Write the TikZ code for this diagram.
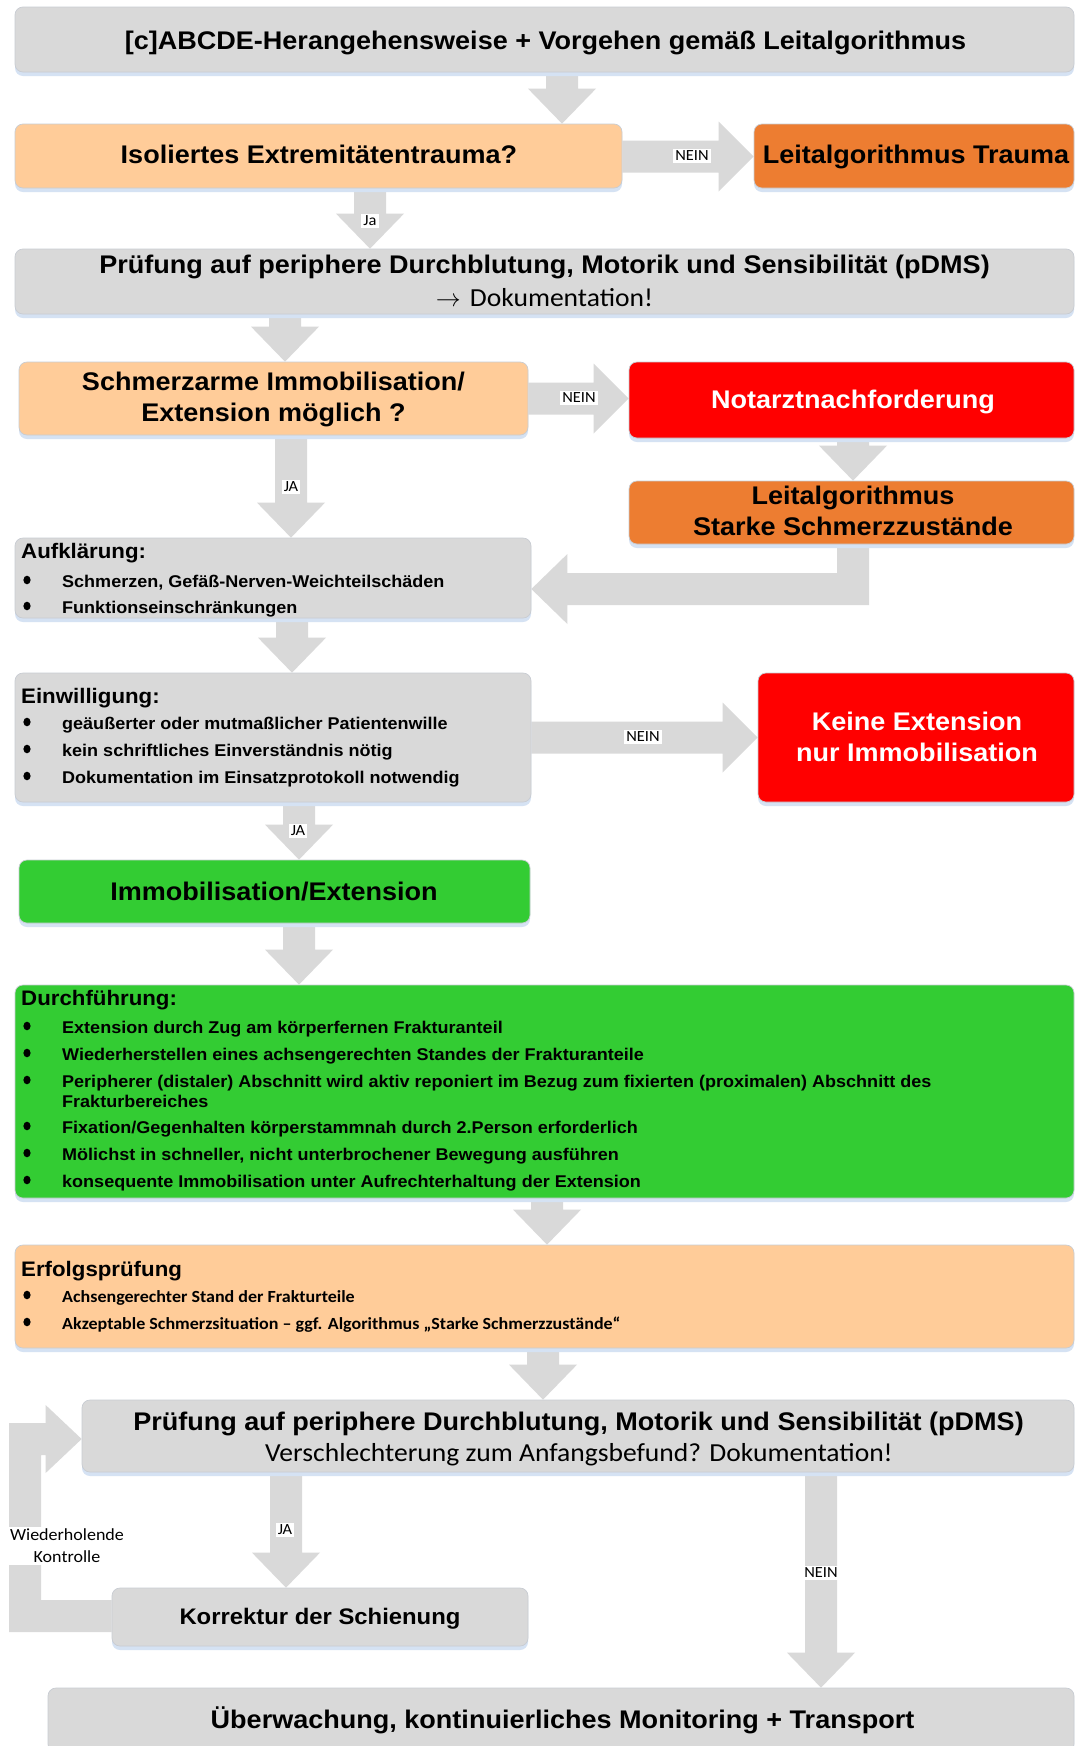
\documentclass[tikz,border=0pt]{standalone}
\usepackage{fontspec}
\setmainfont{Liberation Sans}[FakeStretch=1.06]
\newfontfamily\calibrifont{Carlito}[FakeStretch=1.06]
\usetikzlibrary{shadows,backgrounds,calc}

\definecolor{boxgray}{HTML}{D9D9D9}
\definecolor{arrowgray}{HTML}{D9D9D9}
\definecolor{peach}{HTML}{FFCC99}
\definecolor{orangebox}{HTML}{ED7D31}
\definecolor{redbox}{HTML}{FF0000}
\definecolor{greenbox}{HTML}{33CC33}
\definecolor{shadowblue}{HTML}{D5E2F3}
\definecolor{edgegray}{HTML}{C8CCD2}

\tikzset{
  box/.style={rounded corners=8pt, draw=edgegray, line width=0.7pt, inner sep=0pt,
    drop shadow={shadow xshift=0pt, shadow yshift=-4pt, fill=shadowblue, opacity=1}},
  blockarrow/.style={fill=arrowgray},
  ttl/.style={anchor=base, inner sep=0pt, font=\bfseries\fontsize{25.5}{30}\selectfont},
  sub/.style={anchor=base, inner sep=0pt, font=\calibrifont\fontsize{26}{30}\selectfont},
  hd/.style={anchor=base west, inner sep=0pt, font=\bfseries\fontsize{21}{25}\selectfont},
  itm/.style={anchor=base west, inner sep=0pt, font=\bfseries\fontsize{17}{20}\selectfont},
  calitm/.style={anchor=base west, inner sep=0pt, font=\calibrifont\bfseries\fontsize{17}{20}\selectfont},
  lbl/.style={fill=white, inner xsep=2pt, inner ysep=2pt, font=\calibrifont\fontsize{15.5}{18}\selectfont},
}

% bullet dot, centred at (x,-y)
\newcommand\dotbullet[2]{\fill (#1,-#2) ellipse [x radius=3.6pt, y radius=4.3pt];}

% downward block arrow from one node to the next, shaft axis at x
\newcommand\vblock[3]{%
  \fill[blockarrow] let \p1=(#1.south), \p2=(#2.north) in
    (#3-16,\y1) -- (#3-16,\y2+35) -- (#3-34,\y2+35) -- (#3,\y2) --
    (#3+34,\y2+35) -- (#3+16,\y2+35) -- (#3+16,\y1) -- cycle;}

% rightward block arrow from one node to the next, axis at y (measured downwards)
\newcommand\hblock[3]{%
  \fill[blockarrow] let \p1=(#1.east), \p2=(#2.west) in
    (\x1,-#3+16) -- (\x2-35,-#3+16) -- (\x2-35,-#3+35) -- (\x2,-#3) --
    (\x2-35,-#3-35) -- (\x2-35,-#3-16) -- (\x1,-#3-16) -- cycle;}

\begin{document}
\begin{tikzpicture}[x=1pt,y=1pt]
\useasboundingbox (0,0) rectangle (1075,-1746);
\begin{pgfonlayer}{background}
  \fill[white] (0,0) rectangle (1075,-1746);
\end{pgfonlayer}

% ---------- boxes ----------
\node[box, fill=boxgray,   minimum width=1059pt, minimum height=65pt]  (top)    at (544.5,-39.5)  {};
\node[box, fill=peach,     minimum width=607pt,  minimum height=64pt]  (iso)    at (318.5,-156)   {};
\node[box, fill=orangebox, minimum width=320pt,  minimum height=64pt]  (trauma) at (914,-156)     {};
\node[box, fill=boxgray,   minimum width=1059pt, minimum height=65pt]  (pdms)   at (544.5,-281.5) {};
\node[box, fill=peach,     minimum width=509pt,  minimum height=73pt]  (schmerz) at (273.5,-398.5) {};
\node[box, fill=redbox,    minimum width=445pt,  minimum height=76pt]  (notarzt) at (851.5,-400)  {};
\node[box, fill=orangebox, minimum width=445pt,  minimum height=63pt]  (starke) at (851.5,-512.5) {};
\node[box, fill=boxgray,   minimum width=516pt,  minimum height=80pt]  (aufkl)  at (273,-578)     {};
\node[box, fill=boxgray,   minimum width=516pt,  minimum height=129pt] (einw)   at (273,-737.5)   {};
\node[box, fill=redbox,    minimum width=316pt,  minimum height=129pt] (keine)  at (916,-737.5)   {};
\node[box, fill=greenbox,  minimum width=511pt,  minimum height=63pt]  (immob)  at (274.5,-891.5) {};
\node[box, fill=greenbox,  minimum width=1059pt, minimum height=213pt] (durch)  at (544.5,-1091.5) {};
\node[box, fill=peach,     minimum width=1059pt, minimum height=103pt] (erfolg) at (544.5,-1296.5) {};
\node[box, fill=boxgray,   minimum width=992pt,  minimum height=72pt]  (pdmsb)  at (578,-1436)    {};
\node[box, fill=boxgray,   minimum width=416pt,  minimum height=58pt]  (korr)   at (320,-1617)    {};
\node[box, fill=boxgray,   minimum width=1026pt, minimum height=64pt]  (ueber)  at (561,-1720)    {};

% ---------- block arrows ----------
\begin{pgfonlayer}{background}
  \vblock{top}{iso}{562}
  \hblock{iso}{trauma}{156.5}
  \vblock{iso}{pdms}{370}
  \vblock{pdms}{schmerz}{285}
  \hblock{schmerz}{notarzt}{398.5}
  \vblock{notarzt}{starke}{853}
  \vblock{schmerz}{aufkl}{291}
  % from the pain algorithm back to the information box
  \fill[blockarrow] let \p1=(starke.south), \p2=(aufkl.east) in
    (837,\y1) -- (869,\y1) -- (869,-605) -- (\x2+36,-605) -- (\x2+36,-624) --
    (\x2,-589) -- (\x2+36,-554) -- (\x2+36,-573) -- (837,-573) -- cycle;
  \vblock{aufkl}{einw}{292}
  \hblock{einw}{keine}{737.5}
  \vblock{einw}{immob}{299}
  \vblock{immob}{durch}{299}
  \vblock{durch}{erfolg}{547}
  \vblock{erfolg}{pdmsb}{543}
  \vblock{pdmsb}{korr}{286}
  \vblock{pdmsb}{ueber}{821}
  % repeated check: from the splint correction back up to the pDMS check
  \fill[blockarrow] let \p1=(korr.west), \p2=(pdmsb.west) in
    (\x1,-1600) -- (41,-1600) -- (41,-1455) -- (\x2-36,-1455) -- (\x2-36,-1473) --
    (\x2,-1439) -- (\x2-36,-1405) -- (\x2-36,-1423) -- (9,-1423) -- (9,-1632) --
    (\x1,-1632) -- cycle;
\end{pgfonlayer}

% ---------- box texts ----------
\node[ttl] (top-t) at (545.5,-49) {[c]ABCDE-Herangehensweise + Vorgehen gemäß Leitalgorithmus};
\node[ttl] (iso-t) at (319,-163) {Isoliertes Extremitätentrauma?};
\node[ttl] (trauma-t) at (916,-163) {Leitalgorithmus Trauma};
\node[ttl] (pdms-t1) at (544.5,-273) {Prüfung auf periphere Durchblutung, Motorik und Sensibilität (pDMS)};
\node[sub] (pdms-t2) at (544.5,-306) {$\rightarrow$\hspace{0.35em}Dokumentation!};
\node[ttl] (schmerz-t1) at (273.5,-390) {Schmerzarme Immobilisation/};
\node[ttl] (schmerz-t2) at (273.5,-421) {Extension möglich ?};
\node[ttl, text=white] (notarzt-t) at (853,-408) {Notarztnachforderung};
\node[ttl] (starke-t1) at (853,-504) {Leitalgorithmus};
\node[ttl] (starke-t2) at (853,-535) {Starke Schmerzzustände};
\node[ttl, text=white] (keine-t1) at (917,-730) {Keine Extension};
\node[ttl, text=white] (keine-t2) at (917,-761) {nur Immobilisation};
\node[ttl] (immob-t) at (274,-900) {Immobilisation/Extension};
\node[ttl] (pdmsb-t1) at (578.5,-1430) {Prüfung auf periphere Durchblutung, Motorik und Sensibilität (pDMS)};
\node[sub] (pdmsb-t2) at (579,-1461.5) {Verschlechterung zum Anfangsbefund? Dokumentation!};
\node[ttl, font=\bfseries\fontsize{22.5}{27}\selectfont] (korr-t) at (320,-1624) {Korrektur der Schienung};
\node[ttl] (ueber-t) at (562.5,-1728) {Überwachung, kontinuierliches Monitoring + Transport};

% Aufklärung
\node[hd] (aufkl-h) at (21,-558) {Aufklärung:};
\dotbullet{27}{580} \node[itm] (aufkl-1) at (62,-587) {Schmerzen, Gefäß-Nerven-Weichteilschäden};
\dotbullet{27}{606} \node[itm] (aufkl-2) at (62,-613) {Funktionseinschränkungen};

% Einwilligung
\node[hd] (einw-h) at (21,-703) {Einwilligung:};
\dotbullet{27}{722} \node[itm] (einw-1) at (62,-729) {geäußerter oder mutmaßlicher Patientenwille};
\dotbullet{27}{749} \node[itm] (einw-2) at (62,-756) {kein schriftliches Einverständnis nötig};
\dotbullet{27}{776} \node[itm] (einw-3) at (62,-783) {Dokumentation im Einsatzprotokoll notwendig};

% Durchführung
\node[hd] (durch-h) at (21,-1005) {Durchführung:};
\dotbullet{27}{1026} \node[itm] (durch-1) at (62,-1033) {Extension durch Zug am körperfernen Frakturanteil};
\dotbullet{27}{1053} \node[itm] (durch-2) at (62,-1060.5) {Wiederherstellen eines achsengerechten Standes der Frakturanteile};
\dotbullet{27}{1080} \node[itm] (durch-3a) at (62,-1087.5) {Peripherer (distaler) Abschnitt wird aktiv reponiert im Bezug zum fixierten (proximalen) Abschnitt des};
\node[itm] (durch-3b) at (62,-1107) {Frakturbereiches};
\dotbullet{27}{1126} \node[itm] (durch-4) at (62,-1133) {Fixation/Gegenhalten körperstammnah durch 2.Person erforderlich};
\dotbullet{27}{1153} \node[itm] (durch-5) at (62,-1160) {Mölichst in schneller, nicht unterbrochener Bewegung ausführen};
\dotbullet{27}{1180} \node[itm] (durch-6) at (62,-1187) {konsequente Immobilisation unter Aufrechterhaltung der Extension};

% Erfolgsprüfung
\node[hd] (erfolg-h) at (21,-1276) {Erfolgsprüfung};
\dotbullet{27}{1295} \node[calitm] (erfolg-1) at (62,-1302) {Achsengerechter Stand der Frakturteile};
\dotbullet{27}{1322} \node[calitm] (erfolg-2) at (62,-1329) {Akzeptable Schmerzsituation – ggf. Algorithmus „Starke Schmerzzustände“};

% ---------- arrow labels ----------
\node[lbl] (l-iso-nein) at (692,-156) {NEIN};
\node[lbl] (l-iso-ja) at (370,-221) {Ja};
\node[lbl] (l-schmerz-nein) at (579,-398) {NEIN};
\node[lbl] (l-schmerz-ja) at (291,-487) {JA};
\node[lbl] (l-einw-nein) at (643,-737) {NEIN};
\node[lbl] (l-einw-ja) at (298,-831) {JA};
\node[lbl] (l-pdmsb-ja) at (285,-1530) {JA};
\node[lbl] (l-pdmsb-nein) at (821,-1573) {NEIN};
\node[lbl, align=center, inner xsep=1pt, font=\calibrifont\fontsize{17}{22}\selectfont]
  (l-loop) at (67,-1546) {Wiederholende\\Kontrolle};
\end{tikzpicture}
\end{document}
